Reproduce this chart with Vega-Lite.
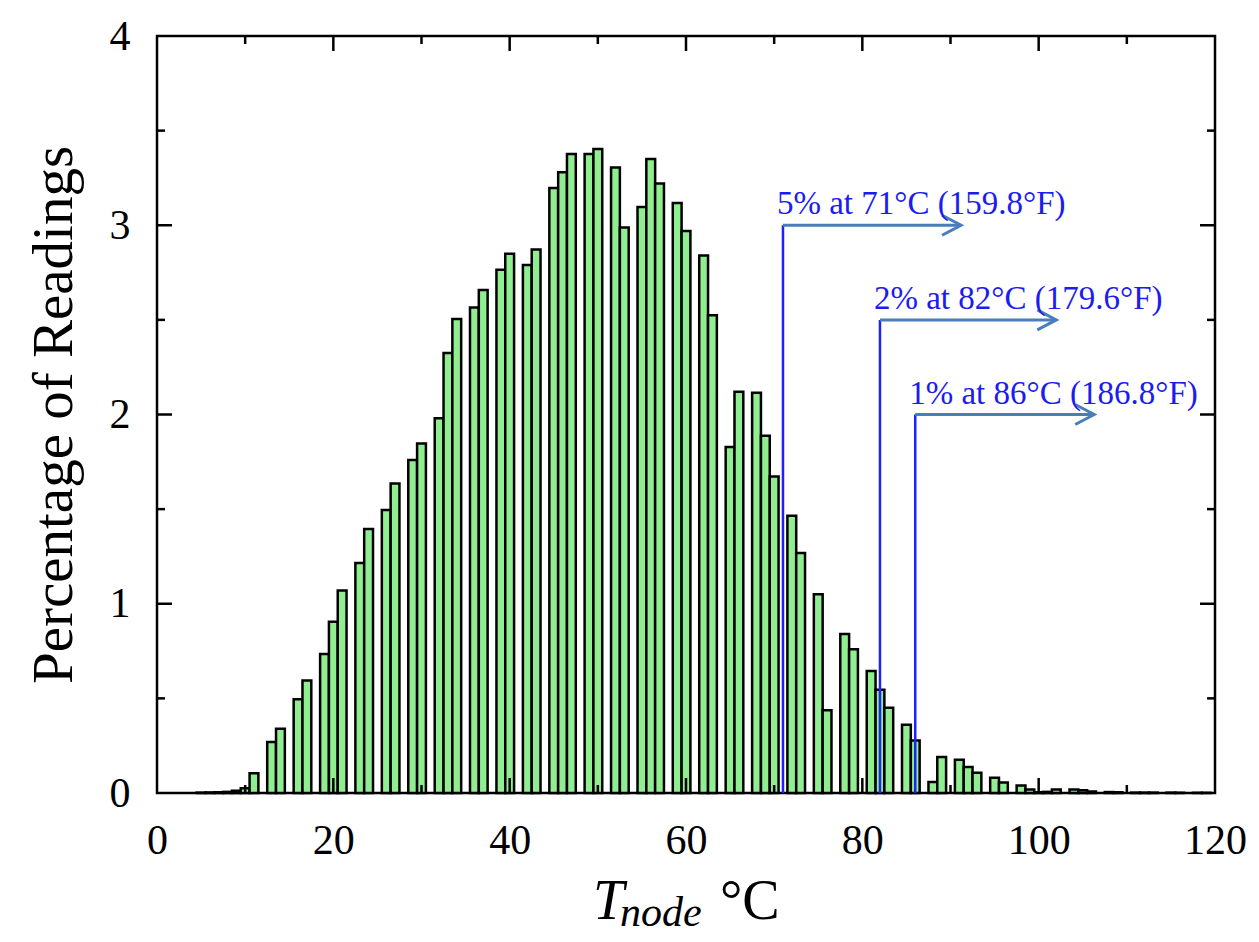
{
  "$schema": "https://vega.github.io/schema/vega-lite/v6.json",
  "autosize": "none",
  "width": 1058,
  "height": 757,
  "padding": {"left": 157, "top": 36, "right": 44, "bottom": 149},
  "background": "white",
  "config": {
    "font": "Liberation Serif",
    "view": {"stroke": "black", "strokeWidth": 2.5}
  },
  "datasets": {
    "hist": [
      {"t": 5, "lo": 4.5, "hi": 5.5, "p": 0.002},
      {"t": 6, "lo": 5.5, "hi": 6.5, "p": 0.003},
      {"t": 7, "lo": 6.5, "hi": 7.5, "p": 0.004},
      {"t": 8, "lo": 7.5, "hi": 8.5, "p": 0.006},
      {"t": 9, "lo": 8.5, "hi": 9.5, "p": 0.012},
      {"t": 10, "lo": 9.5, "hi": 10.5, "p": 0.025},
      {"t": 11, "lo": 10.5, "hi": 11.5, "p": 0.105},
      {"t": 13, "lo": 12.5, "hi": 13.5, "p": 0.27},
      {"t": 14, "lo": 13.5, "hi": 14.5, "p": 0.34},
      {"t": 16, "lo": 15.5, "hi": 16.5, "p": 0.495},
      {"t": 17, "lo": 16.5, "hi": 17.5, "p": 0.595},
      {"t": 19, "lo": 18.5, "hi": 19.5, "p": 0.735},
      {"t": 20, "lo": 19.5, "hi": 20.5, "p": 0.905},
      {"t": 21, "lo": 20.5, "hi": 21.5, "p": 1.07},
      {"t": 23, "lo": 22.5, "hi": 23.5, "p": 1.215},
      {"t": 24, "lo": 23.5, "hi": 24.5, "p": 1.395},
      {"t": 26, "lo": 25.5, "hi": 26.5, "p": 1.495},
      {"t": 27, "lo": 26.5, "hi": 27.5, "p": 1.636},
      {"t": 29, "lo": 28.5, "hi": 29.5, "p": 1.76},
      {"t": 30, "lo": 29.5, "hi": 30.5, "p": 1.847},
      {"t": 32, "lo": 31.5, "hi": 32.5, "p": 1.98},
      {"t": 33, "lo": 32.5, "hi": 33.5, "p": 2.325},
      {"t": 34, "lo": 33.5, "hi": 34.5, "p": 2.505},
      {"t": 36, "lo": 35.5, "hi": 36.5, "p": 2.565},
      {"t": 37, "lo": 36.5, "hi": 37.5, "p": 2.658},
      {"t": 39, "lo": 38.5, "hi": 39.5, "p": 2.765},
      {"t": 40, "lo": 39.5, "hi": 40.5, "p": 2.85},
      {"t": 42, "lo": 41.5, "hi": 42.5, "p": 2.79},
      {"t": 43, "lo": 42.5, "hi": 43.5, "p": 2.872},
      {"t": 45, "lo": 44.5, "hi": 45.5, "p": 3.197},
      {"t": 46, "lo": 45.5, "hi": 46.5, "p": 3.28},
      {"t": 47, "lo": 46.5, "hi": 47.5, "p": 3.377},
      {"t": 49, "lo": 48.5, "hi": 49.5, "p": 3.376},
      {"t": 50, "lo": 49.5, "hi": 50.5, "p": 3.403},
      {"t": 52, "lo": 51.5, "hi": 52.5, "p": 3.305},
      {"t": 53, "lo": 52.5, "hi": 53.5, "p": 2.988},
      {"t": 55, "lo": 54.5, "hi": 55.5, "p": 3.096},
      {"t": 56, "lo": 55.5, "hi": 56.5, "p": 3.35},
      {"t": 57, "lo": 56.5, "hi": 57.5, "p": 3.22},
      {"t": 59, "lo": 58.5, "hi": 59.5, "p": 3.117},
      {"t": 60, "lo": 59.5, "hi": 60.5, "p": 2.97},
      {"t": 62, "lo": 61.5, "hi": 62.5, "p": 2.84},
      {"t": 63, "lo": 62.5, "hi": 63.5, "p": 2.524},
      {"t": 65, "lo": 64.5, "hi": 65.5, "p": 1.828},
      {"t": 66, "lo": 65.5, "hi": 66.5, "p": 2.12},
      {"t": 68, "lo": 67.5, "hi": 68.5, "p": 2.115},
      {"t": 69, "lo": 68.5, "hi": 69.5, "p": 1.888},
      {"t": 70, "lo": 69.5, "hi": 70.5, "p": 1.673},
      {"t": 72, "lo": 71.5, "hi": 72.5, "p": 1.465},
      {"t": 73, "lo": 72.5, "hi": 73.5, "p": 1.268},
      {"t": 75, "lo": 74.5, "hi": 75.5, "p": 1.05},
      {"t": 76, "lo": 75.5, "hi": 76.5, "p": 0.437},
      {"t": 78, "lo": 77.5, "hi": 78.5, "p": 0.84},
      {"t": 79, "lo": 78.5, "hi": 79.5, "p": 0.76},
      {"t": 81, "lo": 80.5, "hi": 81.5, "p": 0.645},
      {"t": 82, "lo": 81.5, "hi": 82.5, "p": 0.545},
      {"t": 83, "lo": 82.5, "hi": 83.5, "p": 0.45},
      {"t": 85, "lo": 84.5, "hi": 85.5, "p": 0.36},
      {"t": 86, "lo": 85.5, "hi": 86.5, "p": 0.278},
      {"t": 88, "lo": 87.5, "hi": 88.5, "p": 0.058},
      {"t": 89, "lo": 88.5, "hi": 89.5, "p": 0.19},
      {"t": 91, "lo": 90.5, "hi": 91.5, "p": 0.176},
      {"t": 92, "lo": 91.5, "hi": 92.5, "p": 0.137},
      {"t": 93, "lo": 92.5, "hi": 93.5, "p": 0.107},
      {"t": 95, "lo": 94.5, "hi": 95.5, "p": 0.081},
      {"t": 96, "lo": 95.5, "hi": 96.5, "p": 0.055},
      {"t": 98, "lo": 97.5, "hi": 98.5, "p": 0.04},
      {"t": 99, "lo": 98.5, "hi": 99.5, "p": 0.018},
      {"t": 100, "lo": 99.5, "hi": 100.5, "p": 0.004},
      {"t": 101, "lo": 100.5, "hi": 101.5, "p": 0.006},
      {"t": 102, "lo": 101.5, "hi": 102.5, "p": 0.019},
      {"t": 104, "lo": 103.5, "hi": 104.5, "p": 0.019},
      {"t": 105, "lo": 104.5, "hi": 105.5, "p": 0.014},
      {"t": 106, "lo": 105.5, "hi": 106.5, "p": 0.008},
      {"t": 108, "lo": 107.5, "hi": 108.5, "p": 0.005},
      {"t": 109, "lo": 108.5, "hi": 109.5, "p": 0.004},
      {"t": 111, "lo": 110.5, "hi": 111.5, "p": 0.002},
      {"t": 112, "lo": 111.5, "hi": 112.5, "p": 0.002},
      {"t": 113, "lo": 112.5, "hi": 113.5, "p": 0.002},
      {"t": 115, "lo": 114.5, "hi": 115.5, "p": 0.002},
      {"t": 116, "lo": 115.5, "hi": 116.5, "p": 0.001},
      {"t": 118, "lo": 117.5, "hi": 118.5, "p": 0.001},
      {"t": 119, "lo": 118.5, "hi": 119.5, "p": 0.001}
    ],
    "notes": [
      {"label": "5% at 71°C (159.8°F)", "t": 71, "top": 3.0, "end": 91.2},
      {"label": "2% at 82°C (179.6°F)", "t": 82, "top": 2.5, "end": 102.0},
      {"label": "1% at 86°C (186.8°F)", "t": 86, "top": 2.0, "end": 106.3}
    ],
    "xticks": [
      {"v": 10, "major": false}, {"v": 20, "major": true}, {"v": 30, "major": false},
      {"v": 40, "major": true}, {"v": 50, "major": false}, {"v": 60, "major": true},
      {"v": 70, "major": false}, {"v": 80, "major": true}, {"v": 90, "major": false},
      {"v": 100, "major": true}, {"v": 110, "major": false}
    ],
    "yticks": [
      {"v": 0.5, "major": false}, {"v": 1, "major": true}, {"v": 1.5, "major": false},
      {"v": 2, "major": true}, {"v": 2.5, "major": false}, {"v": 3, "major": true},
      {"v": 3.5, "major": false}
    ]
  },
  "layer": [
    {
      "data": {"name": "hist"},
      "mark": {"type": "bar", "fill": "#90ee90", "stroke": "#000000", "strokeWidth": 2.5, "opacity": 1},
      "encoding": {
        "x": {
          "field": "lo", "type": "quantitative",
          "scale": {"domain": [0, 120], "nice": false},
          "axis": {
            "values": [0, 20, 40, 60, 80, 100, 120], "format": "d", "ticks": false, "domain": false, "grid": false,
            "title": null, "labelFont": "Liberation Serif", "labelFontSize": 42, "labelColor": "black",
            "labelPadding": 27, "labelFlush": false, "labelOverlap": false
          }
        },
        "x2": {"field": "hi"},
        "y": {
          "field": "p", "type": "quantitative",
          "scale": {"domain": [0, 4], "nice": false},
          "axis": {
            "values": [0, 1, 2, 3, 4], "format": "d", "ticks": false, "domain": false, "grid": false,
            "title": "Percentage of Readings", "titleFont": "Liberation Serif", "titleFontSize": 57,
            "titleFontWeight": "normal", "titleColor": "black", "titlePadding": 26,
            "labelFont": "Liberation Serif", "labelFontSize": 42, "labelColor": "black",
            "labelPadding": 27, "labelFlush": false, "labelOverlap": false
          }
        },
        "y2": {"datum": 0}
      }
    },
    {
      "data": {"name": "xticks"},
      "mark": {"type": "tick", "orient": "vertical", "thickness": 2.5, "clip": true, "color": "black", "opacity": 1},
      "encoding": {
        "x": {"field": "v", "type": "quantitative"},
        "y": {"datum": 0, "type": "quantitative"},
        "size": {"condition": {"test": "datum.major", "value": 30}, "value": 16}
      }
    },
    {
      "data": {"name": "xticks"},
      "mark": {"type": "tick", "orient": "vertical", "thickness": 2.5, "clip": true, "color": "black", "opacity": 1},
      "encoding": {
        "x": {"field": "v", "type": "quantitative"},
        "y": {"datum": 4, "type": "quantitative"},
        "size": {"condition": {"test": "datum.major", "value": 30}, "value": 16}
      }
    },
    {
      "data": {"name": "yticks"},
      "mark": {"type": "tick", "orient": "horizontal", "thickness": 2.5, "clip": true, "color": "black", "opacity": 1},
      "encoding": {
        "y": {"field": "v", "type": "quantitative"},
        "x": {"datum": 0, "type": "quantitative"},
        "size": {"condition": {"test": "datum.major", "value": 30}, "value": 16}
      }
    },
    {
      "data": {"name": "yticks"},
      "mark": {"type": "tick", "orient": "horizontal", "thickness": 2.5, "clip": true, "color": "black", "opacity": 1},
      "encoding": {
        "y": {"field": "v", "type": "quantitative"},
        "x": {"datum": 120, "type": "quantitative"},
        "size": {"condition": {"test": "datum.major", "value": 30}, "value": 16}
      }
    },
    {
      "data": {"name": "notes"},
      "mark": {"type": "rule", "color": "#1f1fff", "strokeWidth": 2.5},
      "encoding": {
        "x": {"field": "t", "type": "quantitative"},
        "y": {"field": "top", "type": "quantitative"},
        "y2": {"datum": 0}
      }
    },
    {
      "data": {"name": "notes"},
      "mark": {"type": "rule", "color": "#4a7ebb", "strokeWidth": 3},
      "encoding": {
        "x": {"field": "t", "type": "quantitative"},
        "x2": {"field": "end"},
        "y": {"field": "top", "type": "quantitative"}
      }
    },
    {
      "data": {"name": "notes"},
      "mark": {"type": "point", "shape": "M-1.9,-1L0,0L-1.9,1", "filled": false, "size": 400, "stroke": "#4a7ebb", "strokeWidth": 3, "opacity": 1},
      "encoding": {
        "x": {"field": "end", "type": "quantitative"},
        "y": {"field": "top", "type": "quantitative"}
      }
    },
    {
      "data": {"name": "notes"},
      "mark": {"type": "text", "align": "left", "baseline": "alphabetic", "dx": -6, "dy": -11, "font": "Liberation Serif", "fontSize": 33, "color": "#1c1cf0"},
      "encoding": {
        "x": {"field": "t", "type": "quantitative"},
        "y": {"field": "top", "type": "quantitative"},
        "text": {"field": "label"}
      }
    },
    {
      "data": {"values": [{"s": "T"}]},
      "mark": {"type": "text", "align": "left", "baseline": "alphabetic", "dy": 126, "font": "Liberation Serif", "fontStyle": "italic", "fontSize": 56, "color": "black"},
      "encoding": {
        "x": {"datum": 49.45, "type": "quantitative"},
        "y": {"datum": 0, "type": "quantitative"},
        "text": {"field": "s"}
      }
    },
    {
      "data": {"values": [{"s": "node"}]},
      "mark": {"type": "text", "align": "left", "baseline": "alphabetic", "dy": 133, "font": "Liberation Serif", "fontStyle": "italic", "fontSize": 42, "color": "black"},
      "encoding": {
        "x": {"datum": 52.5, "type": "quantitative"},
        "y": {"datum": 0, "type": "quantitative"},
        "text": {"field": "s"}
      }
    },
    {
      "data": {"values": [{"s": "°C"}]},
      "mark": {"type": "text", "align": "left", "baseline": "alphabetic", "dy": 126, "font": "Liberation Serif", "fontSize": 56, "color": "black"},
      "encoding": {
        "x": {"datum": 63.85, "type": "quantitative"},
        "y": {"datum": 0, "type": "quantitative"},
        "text": {"field": "s"}
      }
    }
  ]
}
